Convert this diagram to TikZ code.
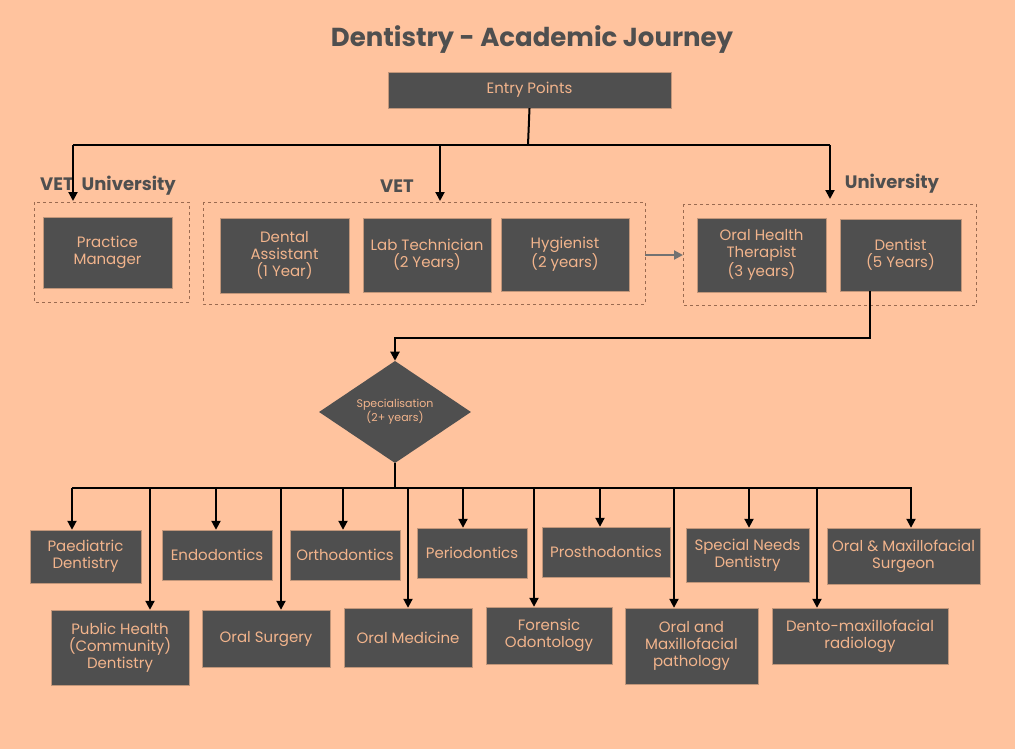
\documentclass[tikz,border=0pt]{standalone}
\usepackage{fontspec}
\setmainfont{Poppins}
\usetikzlibrary{arrows.meta, shapes.geometric, positioning}
\definecolor{peach}{HTML}{FFC39E}
\definecolor{slate}{HTML}{4F4F4F}
\definecolor{salmon}{HTML}{F2B48C}
\definecolor{dashc}{HTML}{9A6A50}
\begin{document}
\begin{tikzpicture}[x=1pt, y=-1pt,
    card/.style={draw=salmon!70!slate, fill=slate, text=salmon, align=center,
      font=\fontsize{15}{17}\selectfont, inner sep=2pt},
    grp/.style={draw=dashc, dashed, line width=1pt},
    head/.style={text=slate, font=\fontsize{18}{20}\selectfont\bfseries},
    arr/.style={-{Triangle[length=9pt,width=9pt]}, line width=2pt},
    bus/.style={line width=2pt}
  ]
    \fill[peach] (0,0) rectangle (1015,749);
    \useasboundingbox (0,0) rectangle (1015,749);
    \node[text=slate, font=\fontsize{26}{28}\selectfont\bfseries] (title) at (532,40)
      {Dentistry - Academic Journey};
    % entry
    \node[card, minimum width=283pt, minimum height=36pt] (entry) at (529.5,90) {Entry Points};
    % groups
    \draw[grp] (34,202) rectangle (189,302);
    \draw[grp] (203,202) rectangle (645,304);
    \draw[grp] (683,204) rectangle (976,305);
    \node[head] (lvu) at (108,186) {VET\hspace{8pt}University};
    \node[head] (lvet) at (397,186) {VET};
    \node[head] (luni) at (892,184) {University};
    \node[card, minimum width=129pt, minimum height=71pt] (pm) at (107.5,252.5) {Practice\\Manager};
    \node[card, minimum width=129pt, minimum height=75pt] (da) at (284.5,255.5) {Dental\\Assistant\\(1 Year)};
    \node[card, minimum width=128pt, minimum height=74pt] (lt) at (427,255) {Lab Technician\\(2 Years)};
    \node[card, minimum width=128pt, minimum height=73pt] (hy) at (565,254.5) {Hygienist\\(2 years)};
    \node[card, minimum width=129pt, minimum height=74pt] (oht) at (761.5,255) {Oral Health\\Therapist\\(3 years)};
    \node[card, minimum width=121pt, minimum height=72pt] (den) at (900.5,255) {Dentist\\(5 Years)};
    \coordinate (g2) at (645,255);
    \coordinate (g3) at (683,255);
    \draw[-{Triangle[length=9pt,width=9pt]}, line width=2pt, slate!80] (g2) -- (g3);
    % entry fan-out
    \coordinate (b0) at (528,145);
    \draw[bus] (entry.south) -- (b0);
    \draw[bus] (73,145) -- (830,145);
    \draw[arr] (73,145) -- (73,201);
    \draw[arr] (440,145) -- (440,201);
    \draw[arr] (830,145) -- (830,199);
    % specialisation
    \node[diamond, fill=slate, text=salmon, minimum width=152pt, minimum height=90pt,
      inner sep=0pt, align=center, font=\fontsize{11}{14}\selectfont] (spec) at (395,412)
      {Specialisation\\(2+ years)};
    \draw[arr] (den.south -| 870,0) -- (870,338) -- (395,338) -- (spec.north);
    \draw[bus] (spec.south) -- (395,488);
    \draw[bus] (72,488) -- (912,488);
    % top row
    \foreach \nm/\cx/\cy/\w/\h/\ax/\txt in {
        pd/85.5/556.5/111/53/72/{Paediatric\\Dentistry},
        en/217/555/110/50/216/{Endodontics},
        or/345/555/110/50/343/{Orthodontics},
        pe/472/553/110/50/463/{Periodontics},
        pr/606/552/128/50/600/{Prosthodontics},
        sn/747.5/555/123/54/749/{Special Needs\\Dentistry},
        om/903.5/556/153/56/911/{Oral \& Maxillofacial\\Surgeon}} {
      \node[card, minimum width=\w pt, minimum height=\h pt] (\nm) at (\cx,\cy) {\txt};
      \draw[arr] (\ax,488) -- (\nm.north -| \ax,0);
    }
    % bottom row
    \foreach \nm/\cx/\cy/\w/\h/\ax/\txt in {
        ph/120/647.5/138/75/150/{Public Health\\(Community)\\Dentistry},
        os/266/638.5/128/57/281/{Oral Surgery},
        ome/408/637.5/128/59/408/{Oral Medicine},
        fo/549/635.5/126/57/534/{Forensic\\Odontology},
        omp/691.5/646/133/76/674/{Oral and\\Maxillofacial\\pathology},
        dr/860/636/176/56/817/{Dento-maxillofacial\\radiology}} {
      \node[card, minimum width=\w pt, minimum height=\h pt] (\nm) at (\cx,\cy) {\txt};
      \draw[arr] (\ax,488) -- (\nm.north -| \ax,0);
    }
\end{tikzpicture}
\end{document}
